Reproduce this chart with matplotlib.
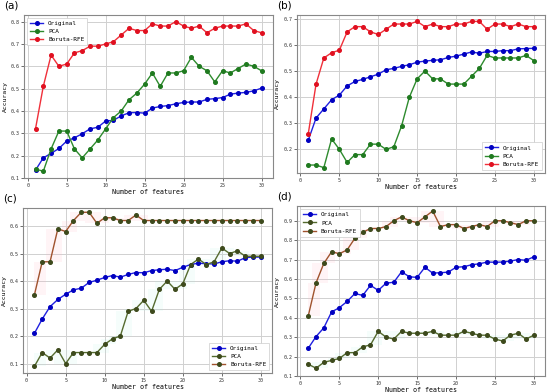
import numpy as np
import matplotlib
matplotlib.use("Agg")
import matplotlib.pyplot as plt

n_features = np.arange(1, 31)

# (a)
a_orig = [0.135, 0.19, 0.21, 0.232, 0.265, 0.28, 0.298, 0.32, 0.327, 0.355, 0.358, 0.378, 0.392, 0.393, 0.39,
          0.413, 0.42, 0.424, 0.432, 0.438, 0.44, 0.44, 0.452, 0.455, 0.46, 0.475, 0.48, 0.483, 0.49, 0.502]
a_pca = [0.14, 0.13, 0.23, 0.31, 0.31, 0.23, 0.19, 0.23, 0.27, 0.32, 0.37, 0.40, 0.45, 0.48, 0.52,
         0.57, 0.51, 0.57, 0.57, 0.58, 0.64, 0.60, 0.58, 0.53, 0.58, 0.57, 0.59, 0.61, 0.60, 0.58]
a_rfe = [0.32, 0.51, 0.65, 0.60, 0.61, 0.66, 0.67, 0.69, 0.69, 0.70, 0.71, 0.74, 0.77, 0.76, 0.76,
         0.79, 0.78, 0.78, 0.80, 0.78, 0.77, 0.78, 0.75, 0.77, 0.78, 0.78, 0.78, 0.79, 0.76, 0.75]

# (b)
b_orig = [0.235, 0.32, 0.355, 0.39, 0.408, 0.443, 0.46, 0.468, 0.478, 0.488, 0.505, 0.51, 0.518, 0.524, 0.534,
          0.538, 0.541, 0.543, 0.552, 0.557, 0.565, 0.573, 0.568, 0.575, 0.575, 0.578, 0.578, 0.585, 0.586, 0.587]
b_pca = [0.14, 0.14, 0.13, 0.24, 0.20, 0.15, 0.18, 0.18, 0.22, 0.22, 0.20, 0.21, 0.29, 0.40, 0.47,
         0.50, 0.47, 0.47, 0.45, 0.45, 0.45, 0.48, 0.51, 0.56, 0.55, 0.55, 0.55, 0.55, 0.56, 0.54]
b_rfe = [0.26, 0.45, 0.55, 0.57, 0.58, 0.65, 0.67, 0.67, 0.65, 0.64, 0.66, 0.68, 0.68, 0.68, 0.69,
         0.67, 0.68, 0.67, 0.67, 0.68, 0.68, 0.69, 0.69, 0.66, 0.68, 0.68, 0.67, 0.68, 0.67, 0.67]

# (c)
c_orig = [0.21, 0.262, 0.307, 0.333, 0.352, 0.368, 0.374, 0.395, 0.403, 0.413, 0.42, 0.414, 0.424, 0.431, 0.43,
          0.438, 0.441, 0.443, 0.438, 0.45, 0.46, 0.465, 0.463, 0.462, 0.47, 0.474, 0.472, 0.485, 0.487, 0.487]
c_pca = [0.09, 0.14, 0.12, 0.15, 0.10, 0.14, 0.14, 0.14, 0.14, 0.17, 0.19, 0.20, 0.29, 0.30, 0.33,
         0.29, 0.37, 0.40, 0.37, 0.39, 0.46, 0.48, 0.46, 0.47, 0.52, 0.50, 0.51, 0.49, 0.49, 0.49]
c_rfe = [0.35, 0.47, 0.47, 0.59, 0.58, 0.62, 0.65, 0.65, 0.61, 0.63, 0.63, 0.62, 0.62, 0.64, 0.62,
         0.62, 0.62, 0.62, 0.62, 0.62, 0.62, 0.62, 0.62, 0.62, 0.62, 0.62, 0.62, 0.62, 0.62, 0.62]

# (d)
d_orig = [0.243, 0.303, 0.348, 0.43, 0.452, 0.484, 0.525, 0.515, 0.567, 0.541, 0.578, 0.583, 0.637, 0.611, 0.608,
          0.66, 0.63, 0.632, 0.635, 0.66, 0.663, 0.673, 0.678, 0.687, 0.686, 0.687, 0.692, 0.70, 0.696, 0.714]
d_pca = [0.16, 0.14, 0.17, 0.18, 0.19, 0.22, 0.22, 0.25, 0.26, 0.33, 0.30, 0.29, 0.33, 0.32, 0.32,
         0.32, 0.33, 0.31, 0.31, 0.31, 0.33, 0.32, 0.31, 0.31, 0.29, 0.28, 0.31, 0.32, 0.29, 0.31]
d_rfe = [0.41, 0.58, 0.68, 0.74, 0.73, 0.75, 0.81, 0.84, 0.86, 0.86, 0.87, 0.90, 0.92, 0.90, 0.89,
         0.92, 0.95, 0.87, 0.88, 0.88, 0.86, 0.87, 0.88, 0.87, 0.90, 0.90, 0.89, 0.88, 0.90, 0.90]

names = ["Original", "PCA", "Boruta-RFE"]
mono = "DejaVu Sans Mono"


def band(vals):
    # faint running min/max band around a curve
    v = np.asarray(vals)
    lo = np.array([v[max(0, i - 1):i + 2].min() for i in range(len(v))])
    hi = np.array([v[max(0, i - 1):i + 2].max() for i in range(len(v))])
    return lo, hi


def draw(ax, orig, pca, rfe, tag, loc, yticks, ylim, dark=False, shade=False):
    if dark:
        pca_kw = dict(color="#556b2f", mfc="#3d4a1c", mec="#3d4a1c")
        rfe_kw = dict(color="#a0522d", mfc="#3d4a1c", mec="#3d4a1c")
    else:
        pca_kw = dict(color="#2e8b2e", mfc="#1f7a1f", mec="#1f7a1f")
        rfe_kw = dict(color="#f0303a", mfc="#e01020", mec="#e01020")
    if shade:
        lo, hi = band(rfe)
        ax.fill_between(n_features, lo, hi, step="mid", color="#ffb6c8", alpha=0.15, lw=0)
        lo, hi = band(pca)
        ax.fill_between(n_features, lo, hi, step="mid", color="#b0f0e0", alpha=0.12, lw=0)
    ax.plot(n_features, orig, "-o", color="#2020e0", mfc="#0000c0", mec="#0000c0", ms=2.6, lw=1.0, label=names[0])
    ax.plot(n_features, pca, "-o", ms=2.6, lw=1.0, label=names[1], **pca_kw)
    ax.plot(n_features, rfe, "-o", ms=2.6, lw=1.0, label=names[2], **rfe_kw)
    ax.set_xticks([0, 5, 10, 15, 20, 25, 30])
    ax.set_yticks(yticks)
    ax.set_yticklabels(["%.1f" % t for t in yticks])
    ax.set_ylim(*ylim)
    ax.grid(True, color="#d0d0d0", lw=0.7)
    ax.set_axisbelow(True)
    for s in ax.spines.values():
        s.set_color("#888888")
        s.set_linewidth(0.8)
    ax.tick_params(labelsize=3.6, length=2, width=0.5, pad=1.5, colors="#333333")
    for lab in ax.get_xticklabels() + ax.get_yticklabels():
        lab.set_family(mono)
    ax.set_xlabel("Number of features", fontsize=4.8, family=mono, labelpad=1)
    ax.set_ylabel("Accuracy", fontsize=4.6, family=mono, labelpad=2)
    leg = ax.legend(loc=loc, prop={"family": mono, "size": 4.3}, handlelength=2.2,
                    borderpad=0.5, labelspacing=0.5, framealpha=1, edgecolor="#cccccc", fancybox=False)
    leg.get_frame().set_linewidth(0.5)
    bb = ax.get_position()
    ax.figure.text(bb.x0 - 0.036, bb.y1 + 0.012, tag, fontsize=7.5, ha="left", va="bottom")


fig = plt.figure(figsize=(5.5, 3.92), dpi=100)
ax_a = fig.add_axes([0.044, 0.546, 0.452, 0.416])
ax_b = fig.add_axes([0.540, 0.559, 0.451, 0.403])
ax_c = fig.add_axes([0.042, 0.048, 0.453, 0.421])
ax_d = fig.add_axes([0.540, 0.041, 0.451, 0.433])

draw(ax_a, a_orig, a_pca, a_rfe, "(a)", "upper left", np.arange(0.1, 0.81, 0.1), (0.1, 0.83))
draw(ax_b, b_orig, b_pca, b_rfe, "(b)", "lower right", np.arange(0.2, 0.71, 0.1), (0.11, 0.715))
draw(ax_c, c_orig, c_pca, c_rfe, "(c)", "lower right", np.arange(0.1, 0.61, 0.1), (0.065, 0.665), dark=True, shade=True)
draw(ax_d, d_orig, d_pca, d_rfe, "(d)", "upper left", np.arange(0.1, 0.91, 0.1), (0.1, 0.975), dark=True, shade=True)

fig.savefig("out.png", dpi=100)
